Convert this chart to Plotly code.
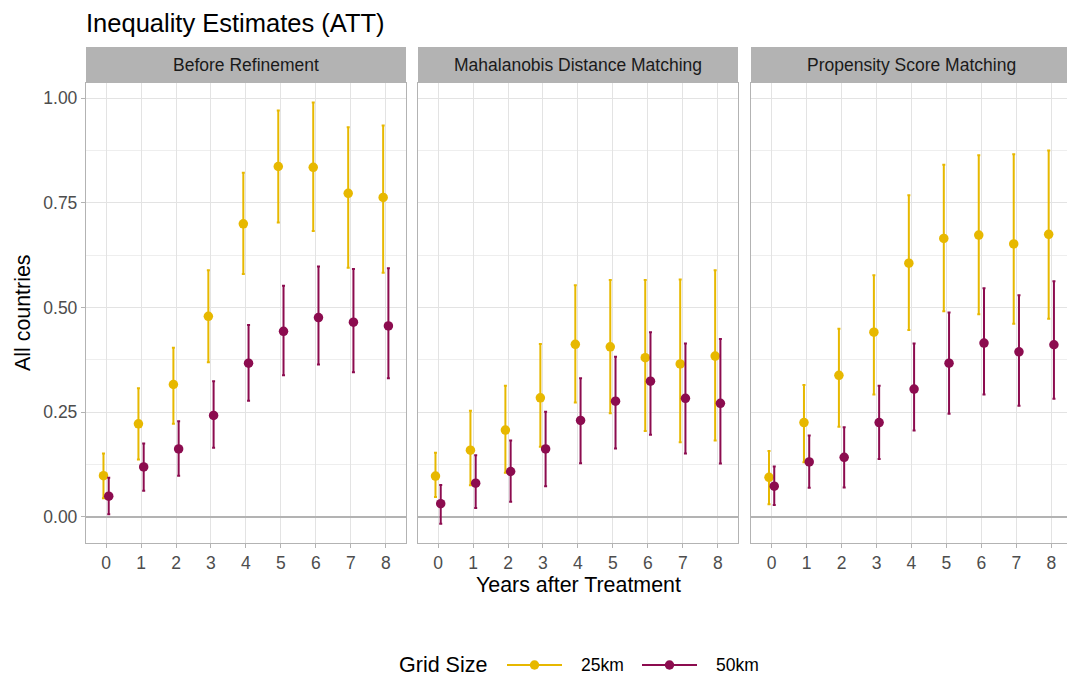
import plotly.graph_objects as go

W, H = 1067, 682

years = [0, 1, 2, 3, 4, 5, 6, 7, 8]
panels = ["Before Refinement", "Mahalanobis Distance Matching", "Propensity Score Matching"]
series_names = ["25km", "50km"]

# Before Refinement
br_25_est = [0.098, 0.222, 0.316, 0.479, 0.700, 0.837, 0.835, 0.773, 0.763]
br_25_lo = [0.044, 0.137, 0.222, 0.369, 0.580, 0.703, 0.683, 0.595, 0.583]
br_25_hi = [0.151, 0.307, 0.404, 0.589, 0.822, 0.971, 0.990, 0.931, 0.935]
br_50_est = [0.049, 0.119, 0.162, 0.242, 0.367, 0.443, 0.476, 0.465, 0.456]
br_50_lo = [0.006, 0.062, 0.098, 0.165, 0.277, 0.338, 0.364, 0.345, 0.331]
br_50_hi = [0.093, 0.175, 0.228, 0.324, 0.458, 0.552, 0.598, 0.592, 0.594]

# Mahalanobis Distance Matching
md_25_est = [0.097, 0.159, 0.207, 0.284, 0.412, 0.406, 0.380, 0.365, 0.384]
md_25_lo = [0.047, 0.075, 0.105, 0.167, 0.273, 0.247, 0.205, 0.178, 0.182]
md_25_hi = [0.153, 0.253, 0.313, 0.413, 0.553, 0.566, 0.566, 0.567, 0.589]
md_50_est = [0.031, 0.080, 0.108, 0.162, 0.230, 0.276, 0.324, 0.283, 0.271]
md_50_lo = [-0.017, 0.021, 0.036, 0.073, 0.128, 0.163, 0.196, 0.151, 0.127]
md_50_hi = [0.076, 0.147, 0.182, 0.251, 0.331, 0.382, 0.441, 0.414, 0.425]

# Propensity Score Matching
ps_25_est = [0.094, 0.225, 0.338, 0.441, 0.606, 0.665, 0.673, 0.652, 0.675]
ps_25_lo = [0.030, 0.130, 0.215, 0.292, 0.446, 0.491, 0.484, 0.461, 0.473]
ps_25_hi = [0.157, 0.315, 0.449, 0.577, 0.768, 0.841, 0.864, 0.866, 0.875]
ps_50_est = [0.073, 0.131, 0.142, 0.225, 0.305, 0.367, 0.415, 0.394, 0.411]
ps_50_lo = [0.028, 0.069, 0.070, 0.138, 0.206, 0.246, 0.292, 0.265, 0.282]
ps_50_hi = [0.120, 0.194, 0.214, 0.313, 0.414, 0.488, 0.546, 0.529, 0.563]

y_ticks = [0.0, 0.25, 0.5, 0.75, 1.0]
y_ticklabels = ["0.00", "0.25", "0.50", "0.75", "1.00"]

data = [
    [(br_25_est, br_25_lo, br_25_hi), (br_50_est, br_50_lo, br_50_hi)],
    [(md_25_est, md_25_lo, md_25_hi), (md_50_est, md_50_lo, md_50_hi)],
    [(ps_25_est, ps_25_lo, ps_25_hi), (ps_50_est, ps_50_lo, ps_50_hi)],
]

colors = ["#E7B800", "#8C0C4F"]
dodge = [-0.075, 0.075]
FONT = "Liberation Sans, Arial, sans-serif"
BORDER = "#b3b3b3"

# panel pixel geometry
panel_px = [(86, 406), (418, 738), (751, 1067)]
unit = 34.96
top_px, bot_px = 83, 543
strip_top = 47

def px_x(p):
    return p / W

def px_y(p):
    return 1 - p / H

fig = go.Figure()

for i, pan in enumerate(data):
    ax = "" if i == 0 else str(i + 1)
    for j, (est, lo, hi) in enumerate(pan):
        fig.add_trace(go.Scatter(
            x=[y + dodge[j] for y in years],
            y=est,
            mode="markers",
            marker=dict(color=colors[j], size=9.5),
            error_y=dict(type="data", symmetric=False,
                         array=[h - e for h, e in zip(hi, est)],
                         arrayminus=[e - l for e, l in zip(est, lo)],
                         color=colors[j], thickness=2, width=1.5),
            xaxis="x" + ax, yaxis="y" + ax,
            showlegend=False, name=series_names[j], hoverinfo="skip",
        ))

layout = dict(
    width=W, height=H,
    margin=dict(l=0, r=0, t=0, b=0),
    paper_bgcolor="white", plot_bgcolor="white",
    font=dict(family=FONT, color="#1a1a1a"),
    showlegend=False,
)

ymin = (516.7 - bot_px) / 418.4
ymax = (516.7 - top_px) / 418.4

for i in range(3):
    l, r = panel_px[i]
    xmin = -0.575 if i < 2 else -0.59
    xmax = xmin + (r - l) / unit
    ax = "" if i == 0 else str(i + 1)
    layout["xaxis" + ax] = dict(
        domain=[px_x(l), px_x(r)], range=[xmin, xmax],
        anchor="y" + ax,
        tickvals=years, ticktext=[str(y) for y in years],
        showgrid=True, gridcolor="#e3e3e3", gridwidth=1,
        ticks="outside", ticklen=4, tickcolor=BORDER, tickwidth=1,
        tickfont=dict(size=17.5, color="#4d4d4d", family=FONT),
        showline=True, linecolor=BORDER, linewidth=1.3, mirror=True,
        zeroline=False,
    )
    layout["yaxis" + ax] = dict(
        domain=[px_y(bot_px), px_y(top_px)], range=[ymin, ymax],
        anchor="x" + ax,
        tickvals=y_ticks, ticktext=y_ticklabels,
        showticklabels=(i == 0),
        ticks="outside" if i == 0 else "", ticklen=4, tickcolor=BORDER, tickwidth=1,
        tickfont=dict(size=17.5, color="#4d4d4d", family=FONT),
        showgrid=True, gridcolor="#e3e3e3", gridwidth=1,
        minor=dict(dtick=0.125, tick0=0, showgrid=True, gridcolor="#eeeeee", gridwidth=0.8),
        showline=True, linecolor=BORDER, linewidth=1.3, mirror=True,
        zeroline=True, zerolinecolor=BORDER, zerolinewidth=2,
    )

shapes = []
annotations = []
for i in range(3):
    l, r = panel_px[i]
    shapes.append(dict(type="rect", xref="paper", yref="paper",
                       x0=px_x(l), x1=px_x(r) if i < 2 else 1.01,
                       y0=px_y(top_px), y1=px_y(strip_top),
                       fillcolor="#b3b3b3", line=dict(width=0), layer="above"))
    annotations.append(dict(xref="paper", yref="paper",
                            x=px_x(l + 160), y=px_y((strip_top + top_px) / 2),
                            text=panels[i], showarrow=False,
                            font=dict(size=17.5, color="#1a1a1a", family=FONT),
                            xanchor="center", yanchor="middle"))

# title
annotations.append(dict(xref="paper", yref="paper", x=px_x(84), y=px_y(23),
                        text="Inequality Estimates (ATT)", showarrow=False,
                        font=dict(size=25.5, color="black", family=FONT),
                        xanchor="left", yanchor="middle"))
# axis titles
annotations.append(dict(xref="paper", yref="paper", x=px_x(578.5), y=px_y(585),
                        text="Years after Treatment", showarrow=False,
                        font=dict(size=21.4, color="black", family=FONT),
                        xanchor="center", yanchor="middle"))
annotations.append(dict(xref="paper", yref="paper", x=px_x(23), y=px_y(313),
                        text="All countries", showarrow=False, textangle=-90,
                        font=dict(size=21.4, color="black", family=FONT),
                        xanchor="center", yanchor="middle"))

# legend
leg_y = 665
annotations.append(dict(xref="paper", yref="paper", x=px_x(397), y=px_y(leg_y),
                        text="Grid Size", showarrow=False,
                        font=dict(size=21.5, color="black", family=FONT),
                        xanchor="left", yanchor="middle"))
leg_x = [507, 642]
for j in range(2):
    x0 = leg_x[j]
    shapes.append(dict(type="line", xref="paper", yref="paper",
                       x0=px_x(x0), x1=px_x(x0 + 55), y0=px_y(leg_y), y1=px_y(leg_y),
                       line=dict(color=colors[j], width=2)))
    cx = x0 + 27.5
    shapes.append(dict(type="circle", xref="paper", yref="paper",
                       x0=px_x(cx - 4.7), x1=px_x(cx + 4.7),
                       y0=px_y(leg_y + 4.7), y1=px_y(leg_y - 4.7),
                       fillcolor=colors[j], line=dict(width=0)))
    annotations.append(dict(xref="paper", yref="paper", x=px_x(x0 + 72), y=px_y(leg_y),
                            text=series_names[j], showarrow=False,
                            font=dict(size=17.5, color="black", family=FONT),
                            xanchor="left", yanchor="middle"))

layout["shapes"] = shapes
layout["annotations"] = annotations
fig.update_layout(**layout)
fig.write_html("out.html")
